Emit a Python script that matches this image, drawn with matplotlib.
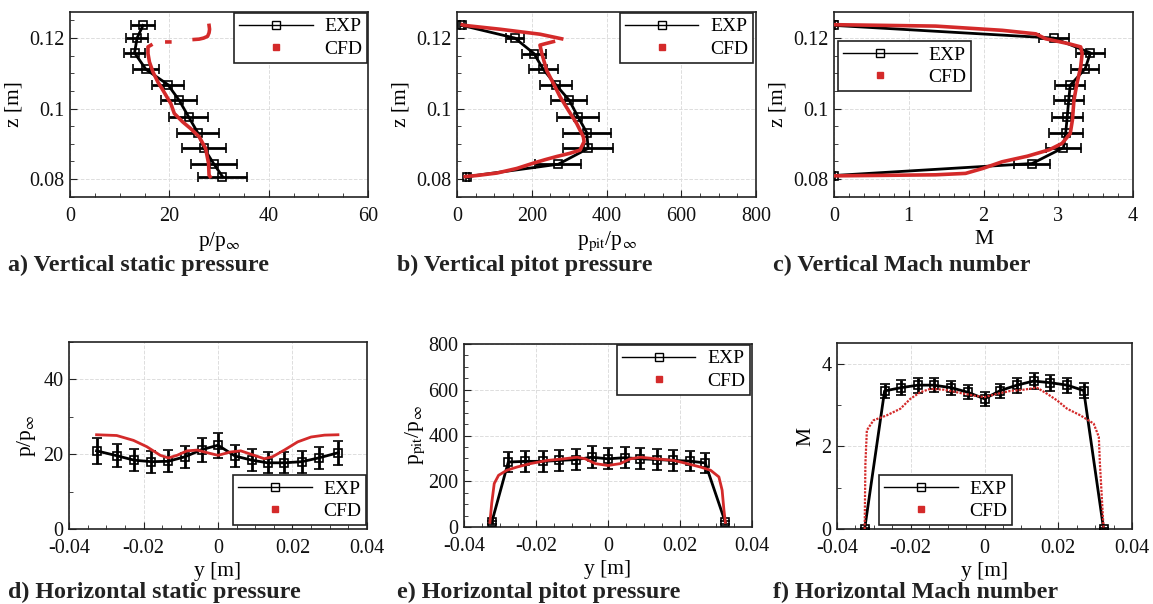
import numpy as np
import matplotlib
matplotlib.use("Agg")
import matplotlib.pyplot as plt
from matplotlib.lines import Line2D
from matplotlib.ticker import MultipleLocator

plt.rcParams['font.family'] = ['Liberation Serif', 'DejaVu Serif']
plt.rcParams['mathtext.fontset'] = 'stix'

# ---------------- data ----------------
# a) vertical static pressure
a_exp_z = [0.1236, 0.1200, 0.1158, 0.1111, 0.1068, 0.1023, 0.0976, 0.0932, 0.0887, 0.0842, 0.0807]
a_exp_p = [14.7, 13.5, 13.0, 15.3, 19.7, 22.0, 23.9, 25.7, 27.0, 29.0, 30.7]
a_exp_err = [2.5, 2.2, 2.1, 2.6, 3.2, 3.6, 3.9, 4.2, 4.4, 4.7, 4.9]
a_cfd_z = [0.0807, 0.0811, 0.0844, 0.0887, 0.0920, 0.0943, 0.0962, 0.0986, 0.1014, 0.1038,
           0.1057, 0.1075, 0.1104, 0.1132, 0.1156, 0.1175, 0.1180, np.nan,
           0.1189, 0.1189, np.nan, 0.1196, 0.1197, 0.1200, 0.1205, 0.1215, 0.1225, 0.1236]
a_cfd_p = [28.2, 28.0, 27.9, 27.3, 26.0, 24.3, 22.7, 21.0, 20.3, 19.3,
           18.5, 17.7, 16.7, 16.0, 15.7, 15.7, 16.3, np.nan,
           19.5, 20.1, np.nan, 25.0, 26.0, 26.9, 27.7, 28.0, 28.1, 28.0]

# b) vertical pitot pressure
b_exp_z = [0.1236, 0.1200, 0.1156, 0.1111, 0.1068, 0.1024, 0.0976, 0.0932, 0.0887, 0.0842, 0.0807]
b_exp_p = [13, 155, 206, 231, 264, 300, 324, 347, 351, 271, 28]
b_exp_err = [5, 25, 33, 38, 43, 49, 57, 64, 67, 62, 5]
b_cfd_z = [0.1238, 0.1236, 0.1225, 0.1211, 0.1198, np.nan, 0.1190, 0.1184, 0.1180, 0.1156,
           0.1108, 0.1071, 0.1033, 0.0995, 0.0958, 0.0920, 0.0906, 0.0882, 0.0873, 0.0864,
           0.0855, 0.0845, 0.0830, 0.0817, 0.0810, 0.0807]
b_cfd_p = [14, 20, 116, 222, 280, np.nan, 258, 236, 222, 227,
           240, 258, 276, 298, 320, 338, 340, 329, 302, 267,
           236, 204, 160, 107, 53, 22]

# c) vertical Mach number
c_exp_z = [0.1236, 0.1200, 0.1158, 0.1113, 0.1066, 0.1024, 0.0976, 0.0932, 0.0889, 0.0844, 0.0810]
c_exp_m = [0.0, 2.94, 3.43, 3.36, 3.16, 3.14, 3.12, 3.10, 3.07, 2.65, 0.0]
c_exp_err = [0.02, 0.20, 0.19, 0.19, 0.20, 0.20, 0.21, 0.23, 0.24, 0.24, 0.02]
c_cfd_z = [0.1238, 0.1234, 0.1222, 0.1212, 0.1198, 0.1184, 0.1175, 0.1156, 0.1118, 0.1071,
           0.1024, 0.0968, 0.0929, 0.0901, 0.0883, 0.0865, 0.0849, 0.0830, 0.0816, 0.0812,
           0.0810, 0.0809]
c_cfd_m = [0.0, 1.36, 2.25, 2.70, 2.83, 3.14, 3.30, 3.32, 3.30, 3.25,
           3.21, 3.19, 3.16, 3.05, 2.88, 2.59, 2.25, 1.99, 1.76, 1.36,
           0.48, 0.0]

# d) horizontal static pressure
d_exp_y = [-0.0326, -0.0272, -0.0225, -0.0179, -0.0134, -0.0089, -0.0044, 0.0, 0.0046,
           0.0091, 0.0133, 0.0178, 0.0225, 0.0270, 0.0323]
d_exp_p = [20.9, 19.6, 18.4, 18.0, 18.1, 19.3, 21.2, 22.4, 19.5, 18.4, 17.7, 17.7, 18.0, 19.0, 20.4]
d_exp_err = [3.5, 3.1, 3.0, 2.9, 2.9, 3.0, 3.2, 3.3, 3.0, 2.9, 2.8, 2.8, 2.9, 3.0, 3.2]
d_cfd_y = [-0.0326, -0.0272, -0.0227, -0.0191, -0.0155, -0.0133, -0.0110, -0.0083, -0.0056,
           -0.0029, 0.0, 0.0034, 0.0061, 0.0088, 0.0124, 0.0146, 0.0178, 0.0214, 0.0250,
           0.0286, 0.0322]
d_cfd_p = [25.2, 25.0, 23.7, 22.0, 19.7, 19.0, 19.7, 20.9, 21.1, 20.4, 19.7, 20.6, 20.9,
           20.0, 18.8, 19.3, 21.1, 23.3, 24.6, 25.1, 25.2]

# e) horizontal pitot pressure
e_exp_y = [-0.0323, -0.0277, -0.0230, -0.0181, -0.0135, -0.0088, -0.0045, 0.0, 0.0046,
           0.0090, 0.0136, 0.0181, 0.0227, 0.0270, 0.0326]
e_exp_p = [20, 284, 287, 287, 291, 295, 305, 298, 303, 298, 295, 291, 288, 280, 20]
e_exp_err = [5, 45, 45, 45, 45, 46, 47, 46, 46, 46, 45, 45, 45, 44, 5]
e_cfd_y = [-0.0328, -0.0323, -0.0316, -0.0304, -0.0281, -0.0253, -0.0216, -0.0169,
           -0.0123, -0.0086, -0.0063, -0.0035, 0.0, 0.0034, 0.0062, 0.0090, 0.0136,
           0.0183, 0.0220, 0.0257, 0.0285, 0.0308, 0.0317, 0.0322, 0.0326]
e_cfd_p = [20, 104, 190, 226, 248, 262, 277, 291, 298, 305, 298, 277, 269, 277, 298, 305,
           298, 291, 277, 262, 248, 219, 161, 75, 20]

# f) horizontal Mach number
f_exp_y = [-0.0325, -0.0271, -0.0226, -0.0180, -0.0138, -0.0091, -0.0046, 0.0, 0.0043,
           0.0088, 0.0133, 0.0178, 0.0224, 0.0269, 0.0323]
f_exp_m = [0.0, 3.34, 3.42, 3.48, 3.48, 3.42, 3.31, 3.15, 3.35, 3.48, 3.58, 3.54, 3.48, 3.35, 0.0]
f_exp_err = [0.02, 0.18, 0.18, 0.18, 0.17, 0.17, 0.17, 0.17, 0.17, 0.18, 0.19, 0.19, 0.18, 0.18, 0.02]
f_cfd_y = [-0.0325, -0.0323, -0.0319, -0.0301, -0.0265, -0.0228, -0.0201, -0.0174, -0.0147,
           -0.0110, -0.0065, -0.0030, 0.0, 0.0034, 0.0070, 0.0106, 0.0142, 0.0170, 0.0197,
           0.0224, 0.0260, 0.0296, 0.0310, 0.0313, 0.0323]
f_cfd_m = [0.0, 1.58, 2.39, 2.63, 2.75, 2.91, 3.15, 3.31, 3.39, 3.37, 3.29, 3.23, 3.19, 3.27,
           3.34, 3.37, 3.42, 3.27, 3.11, 2.91, 2.75, 2.55, 2.23, 1.58, 0.0]

captions = ['a) Vertical static pressure', 'b) Vertical pitot pressure', 'c) Vertical Mach number',
            'd) Horizontal static pressure', 'e) Horizontal pitot pressure', 'f) Horizontal Mach number']

# ---------------- figure ----------------
W, H = 1153, 604
fig = plt.figure(figsize=(W / 100, H / 100), dpi=100)

def box(l, t, r, b):
    return [l / W, 1 - b / H, (r - l) / W, (b - t) / H]

RED = '#d42a2a'
FRAME = '#222222'

def style(ax):
    for s in ax.spines.values():
        s.set_color(FRAME)
        s.set_linewidth(1.2)
    ax.tick_params(which='both', direction='in', top=False, right=False,
                   labelsize=14.5, colors=FRAME, labelcolor='#111111')
    ax.tick_params(which='major', length=5)
    ax.tick_params(which='minor', length=3)
    ax.tick_params(axis='x', which='major', pad=7)
    ax.tick_params(axis='y', which='major', pad=4)
    ax.grid(True, which='major', color='#dddddd', ls='--', lw=0.7)
    ax.set_axisbelow(True)

def exp_plot(ax, x, y, xerr=None, yerr=None):
    ax.errorbar(x, y, xerr=xerr, yerr=yerr, color='black', lw=2.0, elinewidth=2.0,
                capsize=3.5, capthick=2.0, marker='s', ms=6, mfc='none', mec='black',
                mew=1.2, zorder=3)

def cfd_plot(ax, x, y, lw=2.6, ls='-'):
    ax.plot(x, y, color=RED, lw=lw, ls=ls, zorder=4)

def legend(ax, loc, bbox):
    h = [Line2D([], [], color='black', lw=1, marker='s', ms=6, mfc='none', mec='black'),
         Line2D([], [], color=RED, lw=0, marker='s', ms=4)]
    lg = ax.legend(h, ['EXP', 'CFD'], loc=loc, bbox_to_anchor=bbox, borderaxespad=0,
                   fontsize=14, frameon=True, fancybox=False, edgecolor=FRAME,
                   handlelength=3.8, borderpad=0.25, labelspacing=0.25, handletextpad=0.6,
                   framealpha=1)
    lg.get_frame().set_linewidth(1.2)
    lg.set_zorder(10)
    return lg

ylab_kw = dict(fontsize=15.5)
xlab_pad = 3

# a
ax = fig.add_axes(box(70, 12, 368, 197))
style(ax)
exp_plot(ax, a_exp_p, a_exp_z, xerr=a_exp_err)
cfd_plot(ax, a_cfd_p, a_cfd_z)
ax.set_xlim(0, 60); ax.set_ylim(0.0749, 0.1274)
ax.set_xticks([0, 20, 40, 60]); ax.set_yticks([0.08, 0.1, 0.12])
ax.set_yticklabels(['0.08', '0.1', '0.12'])
ax.xaxis.set_minor_locator(MultipleLocator(5)); ax.yaxis.set_minor_locator(MultipleLocator(0.005))
ax.set_xlabel(r'p/p$_\infty$', fontsize=15.5, labelpad=xlab_pad)
ax.set_ylabel('z [m]', **ylab_kw)
legend(ax, 'upper right', (0.997, 0.995))

# b
ax = fig.add_axes(box(457, 12, 756, 197))
style(ax)
exp_plot(ax, b_exp_p, b_exp_z, xerr=b_exp_err)
cfd_plot(ax, b_cfd_p, b_cfd_z)
ax.set_xlim(0, 800); ax.set_ylim(0.0749, 0.1274)
ax.set_xticks([0, 200, 400, 600, 800]); ax.set_yticks([0.08, 0.1, 0.12])
ax.set_yticklabels(['0.08', '0.1', '0.12'])
ax.xaxis.set_minor_locator(MultipleLocator(50)); ax.yaxis.set_minor_locator(MultipleLocator(0.005))
ax.set_xlabel(r'p$_{\rm pit}$/p$_\infty$', fontsize=15.5, labelpad=xlab_pad)
ax.set_ylabel('z [m]', **ylab_kw)
legend(ax, 'upper right', (0.99, 0.995))

# c
ax = fig.add_axes(box(834, 12, 1133, 197))
style(ax)
exp_plot(ax, c_exp_m, c_exp_z, xerr=c_exp_err)
cfd_plot(ax, c_cfd_m, c_cfd_z)
ax.set_xlim(0, 4); ax.set_ylim(0.0749, 0.1274)
ax.set_xticks([0, 1, 2, 3, 4]); ax.set_yticks([0.08, 0.1, 0.12])
ax.set_yticklabels(['0.08', '0.1', '0.12'])
ax.xaxis.set_minor_locator(MultipleLocator(0.2)); ax.yaxis.set_minor_locator(MultipleLocator(0.005))
ax.set_xlabel('M', fontsize=15.5, labelpad=xlab_pad)
ax.set_ylabel('z [m]', **ylab_kw)
legend(ax, 'upper left', (0.013, 0.843))

# d
ax = fig.add_axes(box(69, 342, 367, 529))
style(ax)
exp_plot(ax, d_exp_y, d_exp_p, yerr=d_exp_err)
cfd_plot(ax, d_cfd_y, d_cfd_p, lw=2.0)
ax.set_xlim(-0.04, 0.04); ax.set_ylim(0, 50)
ax.set_xticks([-0.04, -0.02, 0, 0.02, 0.04]); ax.set_yticks([0, 20, 40])
ax.set_xticklabels(['-0.04', '-0.02', '0', '0.02', '0.04'])
ax.xaxis.set_minor_locator(MultipleLocator(0.005)); ax.yaxis.set_minor_locator(MultipleLocator(10))
ax.set_xlabel('y [m]', fontsize=15.5, labelpad=xlab_pad)
ax.set_ylabel(r'p/p$_\infty$', **ylab_kw)
legend(ax, 'lower right', (0.997, 0.021))

# e
ax = fig.add_axes(box(464, 344, 752, 527))
style(ax)
exp_plot(ax, e_exp_y, e_exp_p, yerr=e_exp_err)
cfd_plot(ax, e_cfd_y, e_cfd_p, lw=2.0)
ax.set_xlim(-0.04, 0.04); ax.set_ylim(0, 800)
ax.set_xticks([-0.04, -0.02, 0, 0.02, 0.04]); ax.set_yticks([0, 200, 400, 600, 800])
ax.set_xticklabels(['-0.04', '-0.02', '0', '0.02', '0.04'])
ax.xaxis.set_minor_locator(MultipleLocator(0.005)); ax.yaxis.set_minor_locator(MultipleLocator(50))
ax.set_xlabel('y [m]', fontsize=15.5, labelpad=xlab_pad)
ax.set_ylabel(r'p$_{\rm pit}$/p$_\infty$', fontsize=15.5, labelpad=1)
legend(ax, 'upper right', (0.993, 0.995))

# f
ax = fig.add_axes(box(837, 343, 1132, 529))
style(ax)
exp_plot(ax, f_exp_y, f_exp_m, yerr=f_exp_err)
cfd_plot(ax, f_cfd_y, f_cfd_m, lw=1.6, ls=(0, (1, 0.6)))
ax.set_xlim(-0.04, 0.04); ax.set_ylim(0, 4.5)
ax.set_xticks([-0.04, -0.02, 0, 0.02, 0.04]); ax.set_yticks([0, 2, 4])
ax.set_xticklabels(['-0.04', '-0.02', '0', '0.02', '0.04'])
ax.xaxis.set_minor_locator(MultipleLocator(0.005)); ax.yaxis.set_minor_locator(MultipleLocator(1))
ax.set_xlabel('y [m]', fontsize=15.5, labelpad=xlab_pad)
ax.set_ylabel('M', **ylab_kw)
legend(ax, 'lower left', (0.142, 0.0215))

# captions
cap_pos = [(8, 265), (397, 265), (773, 265), (8, 592), (397, 592), (773, 592)]
for txt, (x, y) in zip(captions, cap_pos):
    fig.text(x / W, 1 - y / H, txt, fontsize=17.3, fontweight='bold', ha='left', va='center',
             color='#222222')

fig.savefig('out.png', dpi=100)
